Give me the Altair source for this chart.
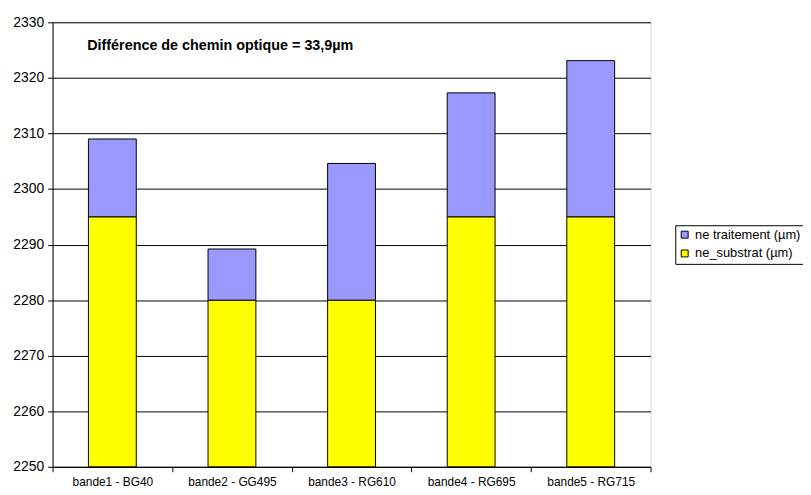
import altair as alt
import pandas as pd

categories = ["bande1 - BG40", "bande2 - GG495", "bande3 - RG610", "bande4 - RG695", "bande5 - RG715"]
substrat = [2295.0, 2280.0, 2280.0, 2295.0, 2295.0]
traitement = [14.0, 9.2, 24.6, 22.3, 28.1]
series = ["ne traitement (µm)", "ne_substrat (µm)"]
colors = ["#9999FF", "#FFFF00"]
y_ticks = [2250, 2260, 2270, 2280, 2290, 2300, 2310, 2320, 2330]
annotation = ["Différence de chemin optique = 33,9µm"]

rows = []
for c, s, t in zip(categories, substrat, traitement):
    rows.append({"cat": c, "series": series[1], "start": y_ticks[0], "end": s})
    rows.append({"cat": c, "series": series[0], "start": s, "end": s + t})
df = pd.DataFrame(rows)

font = "Liberation Sans"

bars = alt.Chart(df).mark_bar(
    width=alt.RelativeBandSize(0.4), stroke="#000000", strokeWidth=1, opacity=1
).encode(
    x=alt.X(
        "cat:N", sort=categories,
        scale=alt.Scale(paddingInner=0, paddingOuter=0),
        axis=alt.Axis(title=None, labelAngle=0, tickBand="extent", domainColor="#000000",
                      tickColor="#000000", tickSize=5, labelPadding=5, labelFont=font,
                      labelFontSize=12, labelColor="#000000", grid=False),
    ),
    y=alt.Y(
        "end:Q",
        scale=alt.Scale(domain=[y_ticks[0], y_ticks[-1]], nice=False, zero=False),
        axis=alt.Axis(title=None, values=y_ticks, format="d", grid=True, gridColor="#000000",
                      gridOpacity=1, gridWidth=1, domainColor="#000000", tickColor="#000000",
                      tickSize=5, labelPadding=4, labelFont=font, labelFontSize=14,
                      labelColor="#000000"),
    ),
    y2="start:Q",
    color=alt.Color(
        "series:N",
        scale=alt.Scale(domain=series, range=colors),
        legend=alt.Legend(title=None, orient="none", legendX=629, legendY=205,
                          fillColor="#FFFFFF", strokeColor="#000000", padding=3,
                          symbolType="square", symbolSize=49, symbolStrokeColor="#000000",
                          symbolStrokeWidth=1, symbolOpacity=1, labelFont=font,
                          labelFontSize=13, labelColor="#000000", rowPadding=5, labelOffset=4),
    ),
)

note = alt.Chart(pd.DataFrame({"t": annotation})).mark_text(
    align="left", baseline="middle", font=font, fontSize=14.5, fontWeight="bold", color="#000000"
).encode(text="t:N", x=alt.value(35), y=alt.value(24))

chart = alt.layer(bars, note).properties(
    width=604, height=449,
    autosize=alt.AutoSizeParams(type="none"),
    padding={"left": 45, "top": 12, "right": 154, "bottom": 24},
).configure_view(stroke="#808080", strokeWidth=1).configure(background="#FFFFFF")

chart.save("out.html", embed_options={"renderer": "svg", "actions": False})
